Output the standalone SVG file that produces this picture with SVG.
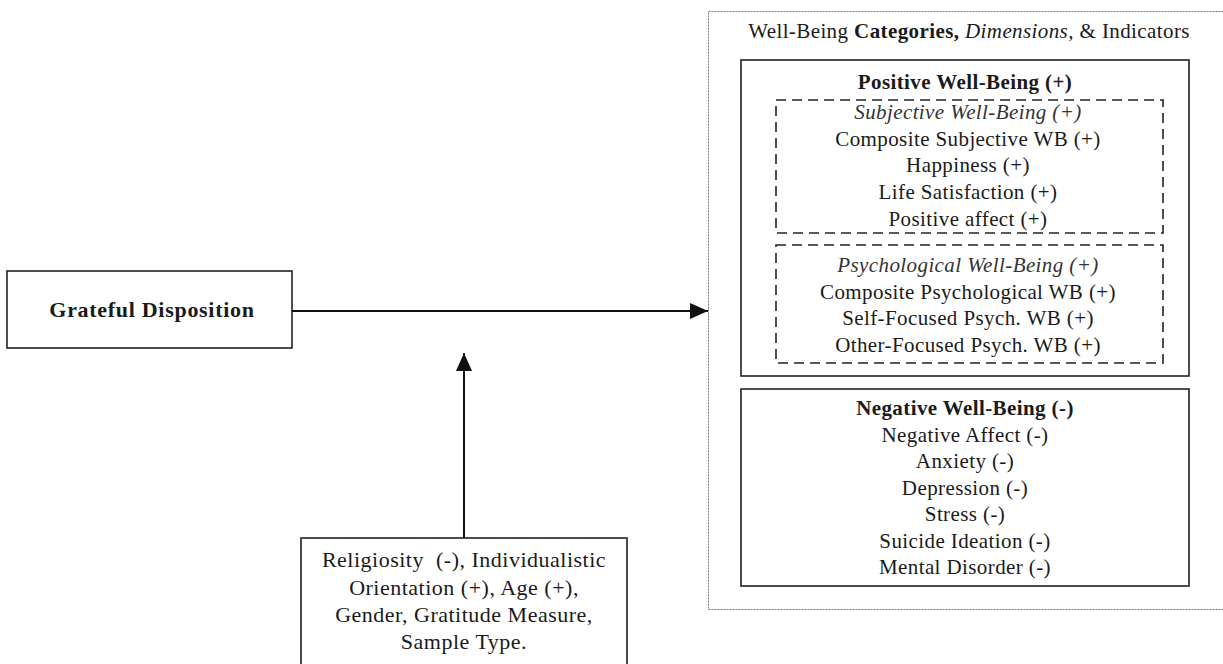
<svg xmlns="http://www.w3.org/2000/svg" width="1223" height="664" viewBox="0 0 1223 664">
<style>
text{font-family:"Liberation Serif","Times New Roman",serif;font-size:21px;letter-spacing:0.4px;fill:#1a1a1a;text-anchor:middle}
.b{font-weight:bold}
.i{font-style:italic;fill:#333}
.m{font-size:22px;letter-spacing:0.5px}
.g{font-size:22px;letter-spacing:0.7px}
.box{fill:#fff;stroke:#222;stroke-width:1.6}
.dash{fill:none;stroke:#222;stroke-width:1.6;stroke-dasharray:10,6}
.outer{fill:#fff;stroke:#777;stroke-width:1;stroke-dasharray:2,1}
.conn{stroke:#111;stroke-width:2;fill:none}
</style>
<defs>
<marker id="ah" markerWidth="18" markerHeight="16" refX="18" refY="8" orient="auto" markerUnits="userSpaceOnUse">
<path d="M0,0 L18,8 L0,16 Z" fill="#111"/>
</marker>
</defs>
<rect width="1223" height="664" fill="#fff"/>
<g id="wellbeing">
<rect class="outer" x="708.5" y="11.5" width="530" height="598"/>
<text x="969" y="38">Well-Being <tspan class="b">Categories,</tspan> <tspan font-style="italic">Dimensions,</tspan> &amp; Indicators</text>
</g>
<g id="positive">
<rect class="box" x="741" y="60" width="448" height="316"/>
<text class="b" x="965" y="89">Positive Well-Being (+)</text>
</g>
<g id="subjective">
<rect class="dash" x="776" y="100" width="387" height="133"/>
<text class="i" x="968" y="119">Subjective Well-Being (+)</text>
<text x="968" y="146">Composite Subjective WB (+)</text>
<text x="968" y="172">Happiness (+)</text>
<text x="968" y="199">Life Satisfaction (+)</text>
<text x="968" y="226">Positive affect (+)</text>
</g>
<g id="psychological">
<rect class="dash" x="776" y="245" width="387" height="118"/>
<text class="i" x="968" y="272">Psychological Well-Being (+)</text>
<text x="968" y="299">Composite Psychological WB (+)</text>
<text x="968" y="325">Self-Focused Psych. WB (+)</text>
<text x="968" y="352">Other-Focused Psych. WB (+)</text>
</g>
<g id="negative">
<rect class="box" x="741" y="389" width="448" height="197"/>
<text class="b" x="965" y="415">Negative Well-Being (-)</text>
<text x="965" y="442">Negative Affect (-)</text>
<text x="965" y="468">Anxiety (-)</text>
<text x="965" y="495">Depression (-)</text>
<text x="965" y="521">Stress (-)</text>
<text x="965" y="548">Suicide Ideation (-)</text>
<text x="965" y="574">Mental Disorder (-)</text>
</g>
<g id="grateful">
<rect class="box" x="7" y="271" width="285" height="77"/>
<text class="b g" x="152" y="317">Grateful Disposition</text>
</g>
<g id="moderators">
<rect class="box" x="301" y="538" width="326" height="140"/>
<text class="m" x="464" y="567" xml:space="preserve">Religiosity  (-), Individualistic</text>
<text class="m" x="464" y="595">Orientation (+), Age (+),</text>
<text class="m" x="464" y="622">Gender, Gratitude Measure,</text>
<text class="m" x="464" y="649">Sample Type.</text>
</g>
<g id="connectors">
<line class="conn" x1="292" y1="311" x2="708" y2="311" marker-end="url(#ah)"/>
<line class="conn" x1="464" y1="538" x2="464" y2="353" marker-end="url(#ah)"/>
</g>
</svg>
